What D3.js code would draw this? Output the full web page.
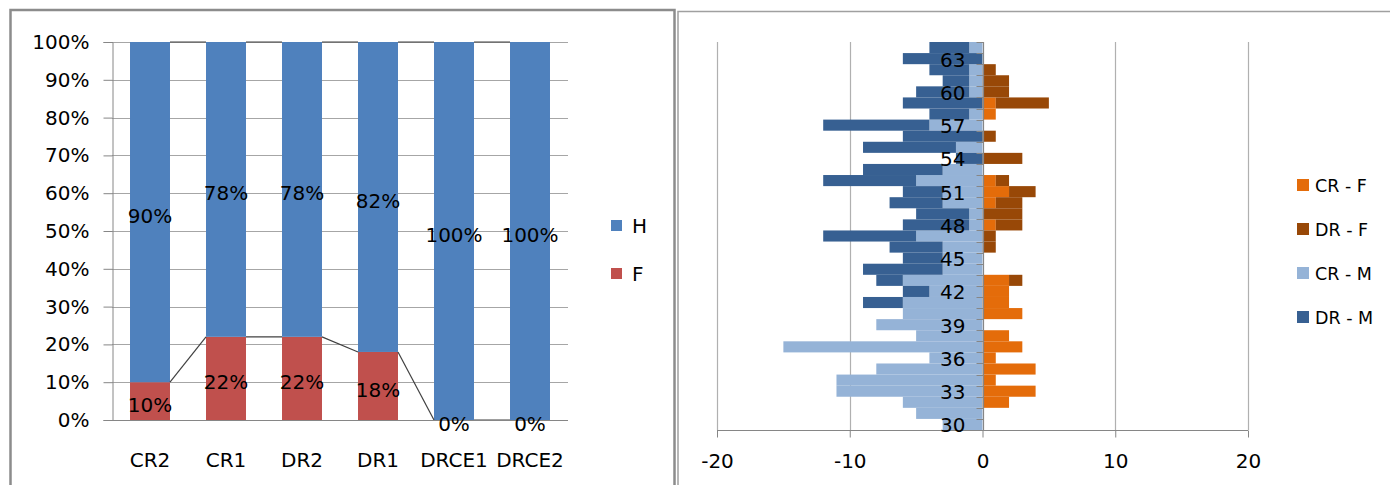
<!DOCTYPE html>
<html><head><meta charset="utf-8">
<script src="https://cdn.jsdelivr.net/npm/d3@7"></script>
<style>
html,body{margin:0;padding:0;background:#fff;}
svg{display:block;}
text{font-family:"DejaVu Sans",sans-serif;fill:#000;}
</style>
</head><body>
<svg id="c" width="1390" height="485"></svg>
<script>
// ---------- Left chart data ----------
const categories = ["CR2","CR1","DR2","DR1","DRCE1","DRCE2"];
const valuesF = [10,22,22,18,0,0];
const valuesH = [90,78,78,82,100,100];
const pctTicks = [0,10,20,30,40,50,60,70,80,90,100];
const leftSeries = ["H","F"];

// ---------- Right chart data (ages 30 .. 64) ----------
const ages = [30,31,32,33,34,35,36,37,38,39,40,41,42,43,44,45,46,47,48,49,50,51,52,53,54,55,56,57,58,59,60,61,62,63,64];
const crM = [3,5,6,11,11,8,4,15,5,8,6,6,4,6,3,3,3,5,1,1,3,3,5,3,0,2,0,4,1,0,1,1,1,0,1];
const drM = [0,0,0,0,0,0,0,0,0,0,0,3,2,2,6,3,4,7,5,4,4,3,7,6,2,7,6,8,3,6,4,2,3,6,3];
const crF = [0,0,2,4,1,4,1,3,2,0,3,2,2,2,0,0,0,0,1,0,1,2,1,0,0,0,0,0,1,1,0,0,0,0,0];
const drF = [0,0,0,0,0,0,0,0,0,0,0,0,0,1,0,0,1,1,2,3,2,2,1,0,3,0,1,0,0,4,2,2,1,0,0];
const xTicks = [-20,-10,0,10,20];
const ageLabels = [30,33,36,39,42,45,48,51,54,57,60,63];
const rightSeries = ["CR - F","DR - F","CR - M","DR - M"];

const colH = "#4F81BD", colF = "#C0504D";
const colCRF = "#E46C0A", colDRF = "#984807", colCRM = "#95B3D7", colDRM = "#376092";
const gridCol = "#A6A6A6", axisCol = "#868686";

const svg = d3.select("#c");

// ---------- Frames ----------
svg.append("rect").attr("x",10.5).attr("y",10).attr("width",664).attr("height",500)
  .attr("fill","none").attr("stroke","#8C8C8C").attr("stroke-width",2.5);
svg.append("rect").attr("x",678).attr("y",11.5).attr("width",740).attr("height",500)
  .attr("fill","none").attr("stroke","#A0A0A0").attr("stroke-width",1.5);

// ================= LEFT CHART =================
const L = {left:112, right:568, top:42, bottom:420};
const xL = d3.scaleBand().domain(categories).range([L.left,L.right]).paddingInner(0.474).paddingOuter(0.237);
const yL = d3.scaleLinear().domain([0,100]).range([L.bottom,L.top]);

const gL = svg.append("g");
// gridlines
gL.append("g").selectAll("line").data(pctTicks.filter(d=>d>0)).join("line")
  .attr("x1",L.left).attr("x2",L.right)
  .attr("y1",d=>Math.round(yL(d))+0.5).attr("y2",d=>Math.round(yL(d))+0.5)
  .attr("stroke",gridCol).attr("stroke-width",1);

// y axis
const yAxisL = d3.axisLeft(yL).tickValues(pctTicks).tickFormat(d=>d+"%").tickSize(9).tickPadding(14);
const gyL = gL.append("g").attr("transform",`translate(${L.left+0.5},0)`).call(yAxisL);
gyL.select(".domain").attr("stroke",axisCol);
gyL.selectAll(".tick line").attr("stroke",axisCol);
gyL.selectAll(".tick text").attr("font-size",20).attr("font-family","DejaVu Sans").attr("fill","#000");

// stacked bars
const tableL = categories.map((c,i)=>({cat:c, F:valuesF[i], H:valuesH[i]}));
const stackL = d3.stack().keys(["F","H"])(tableL);
const colorsL = {F:colF, H:colH};
stackL.forEach(s=>{
  gL.append("g").selectAll("rect").data(s).join("rect")
    .attr("x",d=>xL(d.data.cat)).attr("width",xL.bandwidth())
    .attr("y",d=>yL(d[1])).attr("height",d=>yL(d[0])-yL(d[1]))
    .attr("fill",colorsL[s.key]);
});

// series lines
stackL.forEach(s=>{
  const segs = [];
  for(let i=0;i<s.length-1;i++){
    segs.push({x1:xL(categories[i])+xL.bandwidth(), y1:yL(s[i][1]), x2:xL(categories[i+1]), y2:yL(s[i+1][1])});
  }
  gL.append("g").selectAll("line").data(segs).join("line")
    .attr("x1",d=>d.x1).attr("y1",d=>d.y1).attr("x2",d=>d.x2).attr("y2",d=>d.y2)
    .attr("stroke","#404040").attr("stroke-width",1.2);
});

// x axis line
gL.append("line").attr("x1",L.left).attr("x2",L.right).attr("y1",L.bottom+0.5).attr("y2",L.bottom+0.5)
  .attr("stroke",axisCol);
// category labels
gL.append("g").selectAll("text").data(categories).join("text")
  .attr("x",d=>xL(d)+xL.bandwidth()/2).attr("y",460)
  .attr("text-anchor","middle").attr("dominant-baseline","central").attr("font-size",20).text(d=>d);

// data labels
stackL.forEach(s=>{
  gL.append("g").selectAll("text").data(s).join("text")
    .attr("x",d=>xL(d.data.cat)+xL.bandwidth()/2)
    .attr("y",d=>(yL(d[0])+yL(d[1]))/2+4)
    .attr("text-anchor","middle").attr("dominant-baseline","central").attr("font-size",20)
    .text(d=>(d[1]-d[0])+"%");
});

// left legend
const legL = gL.append("g");
leftSeries.forEach((k,i)=>{
  const y0 = 220 + i*48;
  legL.append("rect").attr("x",611).attr("y",y0).attr("width",11).attr("height",11).attr("fill",k==="H"?colH:colF);
  legL.append("text").attr("x",632).attr("y",y0+6).attr("dominant-baseline","central").attr("font-size",20).text(k);
});

// ================= RIGHT CHART =================
const R = {left:717, right:1248, top:42, bottom:430};
const xR = d3.scaleLinear().domain([-20,20]).range([R.left,R.right]);
const yR = d3.scaleBand().domain(ages.slice().reverse()).range([R.top,R.bottom]).padding(0);
const gR = svg.append("g");

// vertical gridlines
gR.append("g").selectAll("line").data(xTicks.filter(d=>d!==0)).join("line")
  .attr("x1",d=>Math.round(xR(d))+0.5).attr("x2",d=>Math.round(xR(d))+0.5)
  .attr("y1",R.top).attr("y2",R.bottom).attr("stroke","#B0B0B0").attr("stroke-width",1.2);

// bars
const tableR = ages.map((a,i)=>({age:a, crM:crM[i], drM:drM[i], crF:crF[i], drF:drF[i]}));
const barSpecs = [
  {key:"crF", col:colCRF, x0:d=>0, x1:d=>d.crF},
  {key:"drF", col:colDRF, x0:d=>d.crF, x1:d=>d.crF+d.drF},
  {key:"crM", col:colCRM, x0:d=>-d.crM, x1:d=>0},
  {key:"drM", col:colDRM, x0:d=>-d.crM-d.drM, x1:d=>-d.crM}
];
barSpecs.forEach(b=>{
  gR.append("g").selectAll("rect").data(tableR.filter(d=>d[b.key]>0)).join("rect")
    .attr("x",d=>xR(b.x0(d))).attr("width",d=>xR(b.x1(d))-xR(b.x0(d)))
    .attr("y",d=>yR(d.age)).attr("height",yR.bandwidth())
    .attr("fill",b.col);
});

// x axis
const xAxisR = d3.axisBottom(xR).tickValues(xTicks).tickSize(7).tickPadding(16).tickFormat(d3.format("d"));
const gxR = gR.append("g").attr("transform",`translate(0,${R.bottom+0.5})`).call(xAxisR);
gxR.select(".domain").attr("stroke",axisCol).attr("d",`M${R.left},0H${R.right}`);
gxR.selectAll(".tick line").attr("stroke",axisCol);
gxR.selectAll(".tick text").attr("font-size",20).attr("font-family","DejaVu Sans").attr("fill","#000")
  .text(d=>d<0? "-"+Math.abs(d) : d);

// y axis at 0
const x0 = Math.round(xR(0))+0.5;
gR.append("line").attr("x1",x0).attr("x2",x0).attr("y1",R.top).attr("y2",R.bottom).attr("stroke",axisCol).attr("stroke-width",1.2);
const boundaries = ages.map(a=>yR(a));
gR.append("g").selectAll("line").data(boundaries).join("line")
  .attr("x1",x0-7).attr("x2",x0).attr("y1",d=>Math.round(d)+0.5).attr("y2",d=>Math.round(d)+0.5)
  .attr("stroke",axisCol);
gR.append("g").selectAll("text").data(ageLabels).join("text")
  .attr("x",x0-18).attr("y",d=>yR(d)+yR.bandwidth()/2+1)
  .attr("text-anchor","end").attr("dominant-baseline","central").attr("font-size",20).text(d=>d);

// right legend
const colsR = [colCRF,colDRF,colCRM,colDRM];
rightSeries.forEach((k,i)=>{
  const cy = 185 + i*44;
  gR.append("rect").attr("x",1297).attr("y",cy-6).attr("width",12).attr("height",12).attr("fill",colsR[i]);
  gR.append("text").attr("x",1315).attr("y",cy+1).attr("dominant-baseline","central").attr("font-size",17.5).text(k);
});
</script>
</body></html>
